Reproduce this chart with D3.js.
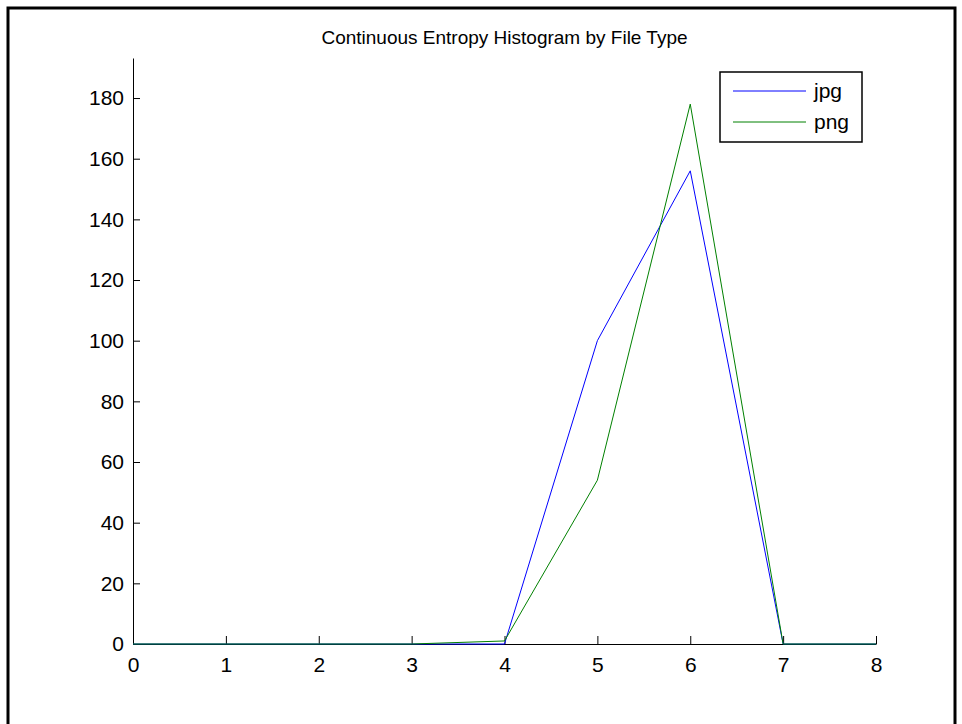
<!DOCTYPE html>
<html>
<head>
<meta charset="UTF-8">
<title>Continuous Entropy Histogram by File Type</title>
<script src="https://cdn.jsdelivr.net/npm/d3@7"></script>
<style>
    body { margin: 0; background: #fff; }
    text { font-family: 'Liberation Sans', Arial, sans-serif; fill: #000; }
    .titulo { font-size: 19px; }
    .leyenda { font-size: 21px; }
</style>
</head>
<body>
<div id="grafico"></div>
<script>
var w = 962, h = 724;

// datos
var bins = [0, 1, 2, 3, 4, 5, 6, 7, 8];
var jpg = [0, 0, 0, 0, 0, 100, 156, 0, 0];
var png = [0, 0, 0, 0, 1, 54, 178, 0, 0];
var xTicks = [0, 1, 2, 3, 4, 5, 6, 7, 8];
var yTicks = [0, 20, 40, 60, 80, 100, 120, 140, 160, 180];
var series = [
    { name: "jpg", values: jpg, color: "#0000ff" },
    { name: "png", values: png, color: "#008000" }
];

var margenIzq = 133, margenDer = 876, margenSup = 58, margenInf = 644;

var xScale = d3.scaleLinear().domain([0, 8]).range([margenIzq, margenDer]);
var yScale = d3.scaleLinear().domain([0, 193.2]).range([margenInf, margenSup]);

var svg = d3.select("#grafico").append("svg")
    .attr("width", w)
    .attr("height", h);

// marco exterior
svg.append("rect")
    .attr("x", 8).attr("y", 8)
    .attr("width", 947).attr("height", 730)
    .attr("fill", "none")
    .attr("stroke", "#000")
    .attr("stroke-width", 3);

svg.append("text")
    .attr("class", "titulo")
    .attr("x", (margenIzq + margenDer) / 2)
    .attr("y", 44)
    .attr("text-anchor", "middle")
    .text("Continuous Entropy Histogram by File Type");

var xAxis = d3.axisBottom(xScale).tickValues(xTicks).tickFormat(d3.format("d"))
    .tickSizeInner(-8).tickSizeOuter(0).tickPadding(13);
var yAxis = d3.axisLeft(yScale).tickValues(yTicks).tickFormat(d3.format("d"))
    .tickSizeInner(-7).tickSizeOuter(0).tickPadding(9);

var estiloTexto = function(g){
    g.selectAll("text")
        .style("font-family", "'Liberation Sans', Arial, sans-serif")
        .style("font-size", "21px")
        .attr("fill", "#000");
};

svg.append("g")
    .attr("transform", "translate(0," + margenInf + ")")
    .call(xAxis)
    .call(estiloTexto);

svg.append("g")
    .attr("transform", "translate(" + margenIzq + ",0)")
    .call(yAxis)
    .call(estiloTexto);

svg.selectAll(".domain").attr("stroke", "#000");
svg.selectAll(".tick line").attr("stroke", "#000");

var line = d3.line()
    .x(function(d, i){ return xScale(bins[i]); })
    .y(function(d){ return yScale(d); });

svg.selectAll(".serie")
    .data(series)
    .enter()
    .append("path")
    .attr("class", "serie")
    .attr("d", function(d){ return line(d.values); })
    .attr("fill", "none")
    .attr("stroke", function(d){ return d.color; })
    .attr("stroke-width", 1);

// leyenda
var ley = svg.append("g");
ley.append("rect")
    .attr("x", 720).attr("y", 72)
    .attr("width", 142).attr("height", 70)
    .attr("fill", "#fff")
    .attr("stroke", "#000")
    .attr("stroke-width", 1.5);

var items = ley.selectAll(".item")
    .data(series)
    .enter()
    .append("g")
    .attr("transform", function(d, i){ return "translate(0," + (91 + i * 31) + ")"; });

items.append("line")
    .attr("x1", 733).attr("x2", 806)
    .attr("stroke", function(d){ return d.color; })
    .attr("stroke-width", 1);

items.append("text")
    .attr("class", "leyenda")
    .attr("x", 814)
    .attr("dy", "0.32em")
    .text(function(d){ return d.name; });
</script>
</body>
</html>
